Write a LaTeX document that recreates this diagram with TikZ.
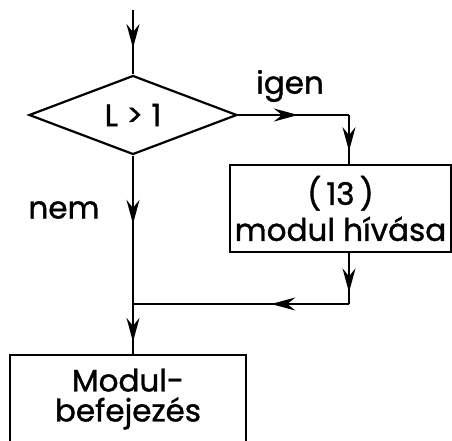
\documentclass[tikz,border=0pt]{standalone}
\usepackage{fontspec}
\setmainfont{Poppins}[FakeBold=1.2]
\usetikzlibrary{shapes.geometric,arrows.meta,decorations.markings}

\begin{document}
\begin{tikzpicture}[x=1pt, y=-1pt, font=\fontsize{31}{36}\selectfont, line width=1.8pt,
  box/.style={draw, line width=2.4pt, inner sep=0pt, align=center},
  midarrow/.style={postaction={decorate, decoration={markings, mark=at position #1 with {\arrow{Stealth[length=24pt, width=13pt, inset=8pt]}}}}}]
  \clip (0,0) rectangle (452,440);
  \node[draw, diamond, line width=2.2pt, inner sep=0pt, minimum width=208pt, minimum height=75pt] (cond) at (133,115) {L > 1};
  \node[box, minimum width=221pt, minimum height=87pt] (call) at (340.5,208.5) {(\,13\,)\\modul hívása};
  \node[box, minimum width=236pt, minimum height=88pt, font=\fontsize{31}{30}\selectfont] (fin) at (128,399) {Modul-\\befejezés};
  \node (yes) at (290,86) {igen};
  \node (no) at (64,210) {nem};
  \coordinate (start) at (133,10);
  \coordinate (c1) at (349,115);
  \coordinate (c2) at (349,304);
  \coordinate (j) at (133,304);
  \draw[midarrow=0.59] (start) -- (cond.north);
  \draw[midarrow=0.54] (cond.east) -- (c1);
  \draw[midarrow=0.74] (c1) -- (c1 |- call.north);
  \draw[midarrow=0.46] (cond.south) -- (j);
  \draw[midarrow=0.77] (c2 |- call.south) -- (c2);
  \draw[midarrow=0.36] (c2) -- (j);
  \draw[midarrow=0.76] (j) -- (fin.north -| j);
\end{tikzpicture}
\end{document}
